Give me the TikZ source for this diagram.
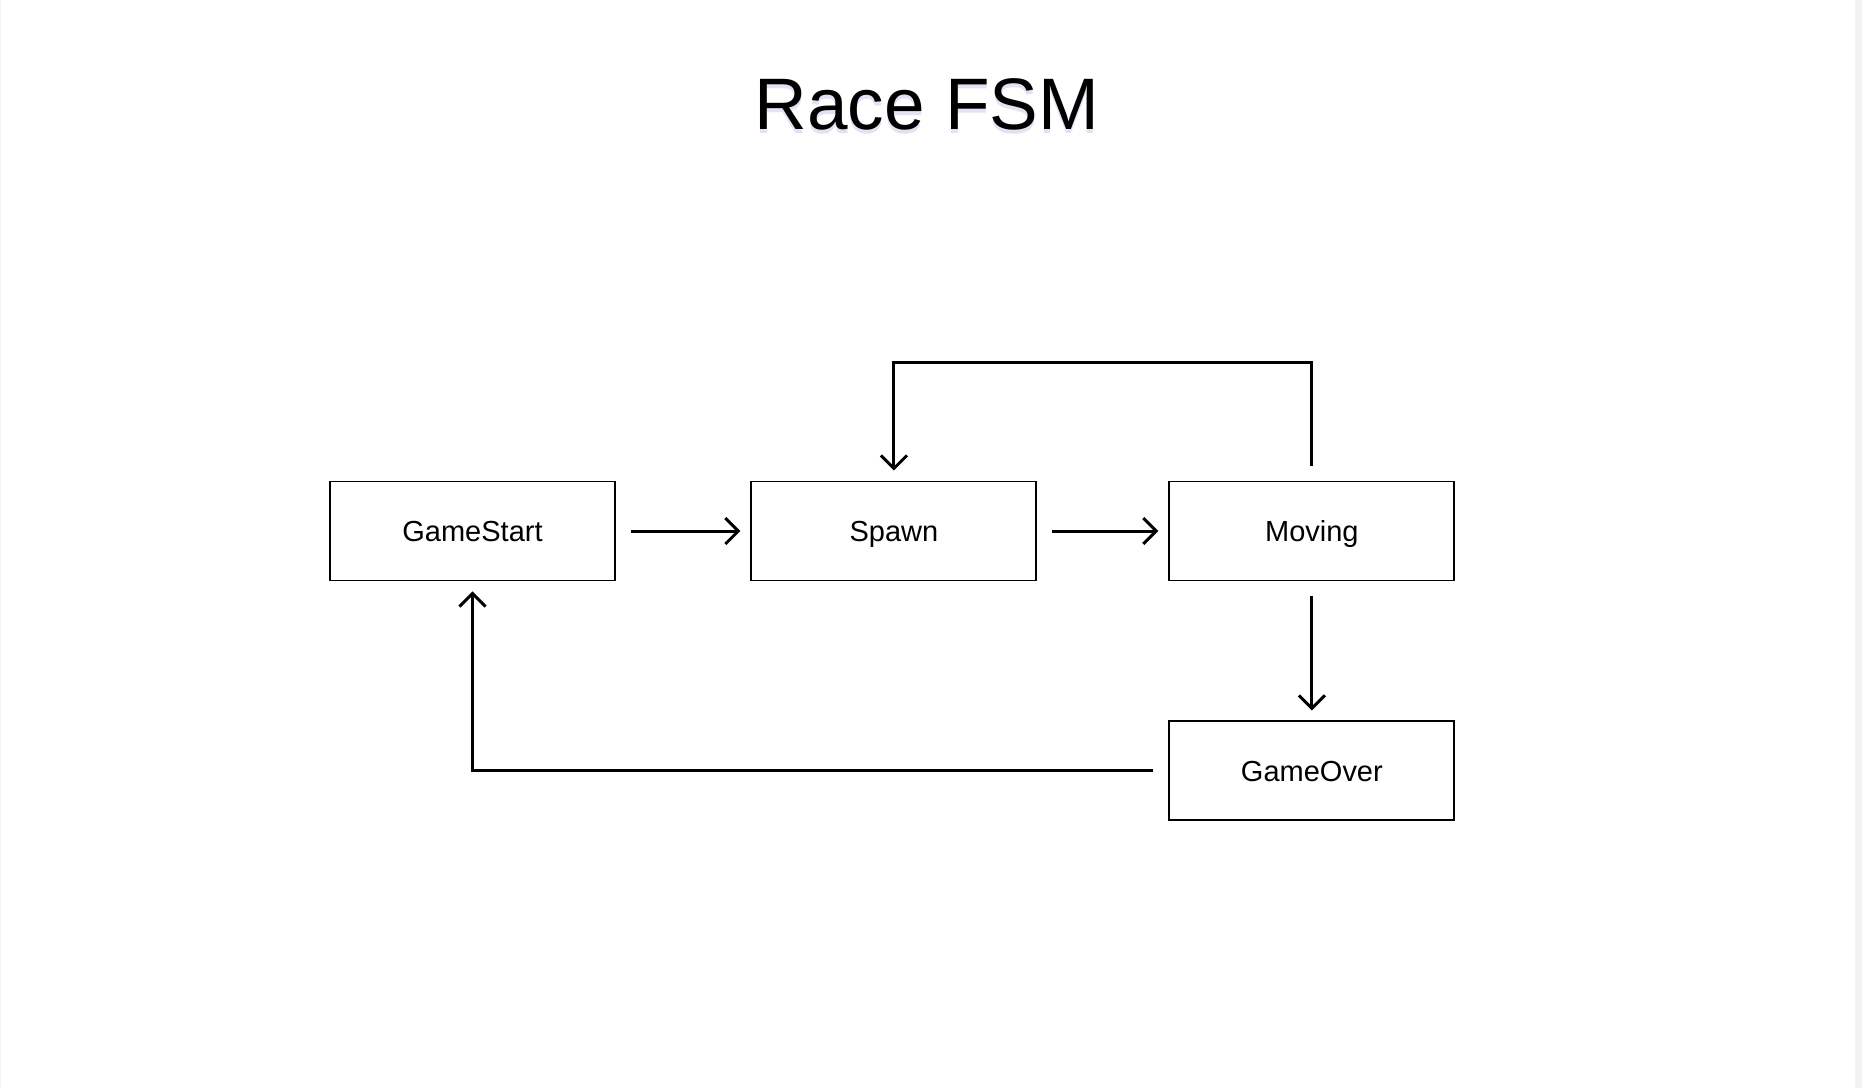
\documentclass[tikz,border=0pt]{standalone}
\usepackage{fontspec}
\setmainfont{Liberation Sans}
\usetikzlibrary{arrows.meta, positioning, calc}

\begin{document}
\begin{tikzpicture}[
    state/.style={draw, line width=1.1pt, minimum width=5.7cm, minimum height=1.98cm,
      text height=11.8pt, text depth=0pt, font=\fontsize{16.5}{20}\selectfont},
    trans/.style={line width=1.7pt, -{Straight Barb[length=0.26cm, width=0.52cm, line width=1.7pt]},
      shorten <=0.3cm, shorten >=0.2cm},
    node distance=2.7cm
  ]
  \useasboundingbox (0,0) rectangle (37.24,-21.76);
  \fill[white] (0,0) rectangle (37.24,-21.76);
  \fill[gray!10] (37.1,0) rectangle (37.24,-21.76);
  \fill[gray!8] (0,0) rectangle (0.03,-21.76);
  % title with soft shadow
  \node[text=blue!45!gray!50, opacity=0.3, font=\fontsize{41.5}{48}\selectfont] (titleshade) at (18.54,-2.16) {Race FSM};
  \node[font=\fontsize{41.5}{48}\selectfont] (title) at (18.54,-2.08) {Race FSM};

  \node[state] (gamestart) at (9.45,-10.62) {GameStart};
  \node[state, right=2.69cm of gamestart] (spawn) {Spawn};
  \node[state, right=2.62cm of spawn] (moving) {Moving};
  \node[state, below=2.78cm of moving] (gameover) {GameOver};

  \draw[trans] (gamestart) -- (spawn);
  \draw[trans] (spawn) -- (moving);
  \draw[trans] (moving) -- (gameover);
  \draw[trans] (gameover.west) -| (gamestart.south);
  % loop back from Moving to Spawn
  \coordinate (looptop) at ($(moving.north)+(0,2.36)$);
  \draw[trans] (moving.north) |- (spawn.north |- looptop) -- (spawn.north);
\end{tikzpicture}
\end{document}
